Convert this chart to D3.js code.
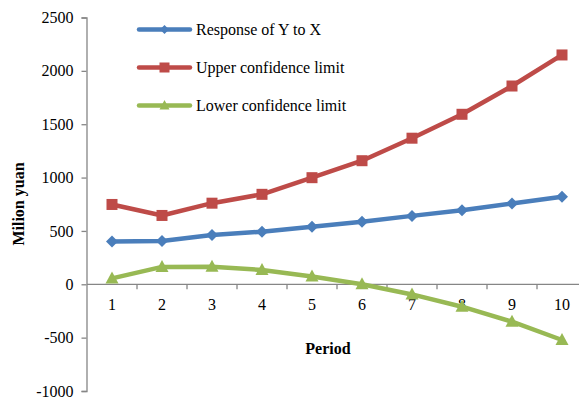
<!DOCTYPE html>
<html>
<head>
<meta charset="utf-8">
<script src="https://cdn.jsdelivr.net/npm/d3@7"></script>
<style>
  html, body { margin: 0; padding: 0; background: #fff; }
  svg { display: block; }
</style>
</head>
<body>
<svg id="chart" width="579" height="399"></svg>
<script>
// Periods on the horizontal axis
const periods = ["1", "2", "3", "4", "5", "6", "7", "8", "9", "10"];
// Response of Y to X and its confidence band (million yuan)
const response = [402, 405, 462, 493, 540, 587, 641, 693, 757, 821];
const upperLimit = [748, 645, 760, 843, 999, 1158, 1369, 1593, 1858, 2149];
const lowerLimit = [55, 163, 165, 134, 72, 0, -95, -210, -350, -522];
const yTicks = [-1000, -500, 0, 500, 1000, 1500, 2000, 2500];
const seriesNames = ["Response of Y to X", "Upper confidence limit", "Lower confidence limit"];
const seriesColors = ["#4a7ebb", "#be4b48", "#98b954"];
const seriesMarkers = ["diamond", "square", "triangle"];

const svg = d3.select("#chart");
const font = "'Liberation Serif', 'Times New Roman', serif";
const axisColor = "#868686";

const x = d3.scaleBand().domain(periods).range([87, 587]);
const y = d3.scaleLinear().domain([-1000, 2500]).range([391, 17.5]);

// Y axis
const yAxis = svg.append("g").attr("transform", "translate(86.5,0)")
  .call(d3.axisLeft(y).tickValues(yTicks).tickSize(5).tickPadding(8)
    .tickFormat(d => String(d)));
yAxis.select(".domain").attr("stroke", axisColor).attr("stroke-width", 1.3);
yAxis.selectAll(".tick line").attr("stroke", axisColor).attr("stroke-width", 1.3);
yAxis.selectAll(".tick text").attr("font-family", font).attr("font-size", 16).attr("fill", "#000");

// X axis on the zero line, ticks between categories
const xg = svg.append("g").attr("transform", `translate(0,${y(0)})`);
xg.append("line").attr("x1", x.range()[0]).attr("x2", x.range()[1])
  .attr("stroke", axisColor).attr("stroke-width", 1.3);
xg.selectAll("line.tk").data(periods).enter().append("line").attr("class", "tk")
  .attr("x1", d => x(d) + x.bandwidth()).attr("x2", d => x(d) + x.bandwidth())
  .attr("y1", 0).attr("y2", 5).attr("stroke", axisColor).attr("stroke-width", 1.3);
xg.selectAll("text").data(periods).enter().append("text")
  .attr("x", d => x(d) + x.bandwidth() / 2).attr("y", 26)
  .attr("text-anchor", "middle").attr("font-family", font).attr("font-size", 16)
  .text(d => d);

// Axis titles
svg.append("text").attr("transform", "translate(24,204) rotate(-90)")
  .attr("text-anchor", "middle").attr("font-family", font).attr("font-size", 16)
  .attr("font-weight", "bold").text("Milion yuan");
svg.append("text").attr("x", 328).attr("y", 354)
  .attr("text-anchor", "middle").attr("font-family", font).attr("font-size", 16)
  .attr("font-weight", "bold").text("Period");

const cx = d => x(d) + x.bandwidth() / 2;

function marker(sel, type, color) {
  if (type === "diamond") {
    sel.append("path").attr("d", "M0,-6L6,0L0,6L-6,0Z").attr("fill", color);
  } else if (type === "square") {
    sel.append("rect").attr("x", -5.5).attr("y", -5.5).attr("width", 11).attr("height", 11).attr("fill", color);
  } else {
    sel.append("path").attr("d", "M0,-7L6.5,5L-6.5,5Z").attr("fill", color);
  }
}

const series = [response, upperLimit, lowerLimit];
const line = d3.line().x((d, i) => cx(periods[i])).y(d => y(d));

series.forEach((vals, s) => {
  const g = svg.append("g");
  g.append("path").datum(vals).attr("d", line).attr("fill", "none")
    .attr("stroke", seriesColors[s]).attr("stroke-width", 4.5).attr("stroke-linejoin", "round");
  vals.forEach((v, i) => {
    const m = g.append("g").attr("transform", `translate(${cx(periods[i])},${y(v)})`);
    marker(m, seriesMarkers[s], seriesColors[s]);
  });
});

// Legend
const legendY = [29.5, 67.5, 105.5];
seriesNames.forEach((name, s) => {
  const g = svg.append("g").attr("transform", `translate(0,${legendY[s]})`);
  g.append("line").attr("x1", 139).attr("x2", 190).attr("stroke", seriesColors[s])
    .attr("stroke-width", 4.5).attr("stroke-linecap", "round");
  const m = g.append("g").attr("transform", "translate(164.5,0)");
  if (seriesMarkers[s] === "diamond") m.append("path").attr("d", "M0,-4.5L4.5,0L0,4.5L-4.5,0Z").attr("fill", seriesColors[s]);
  else if (seriesMarkers[s] === "square") m.append("rect").attr("x", -5).attr("y", -5).attr("width", 10).attr("height", 10).attr("fill", seriesColors[s]);
  else m.append("path").attr("d", "M0,-5.5L5,4L-5,4Z").attr("fill", seriesColors[s]);
  g.append("text").attr("x", 196).attr("y", 5.5).attr("font-family", font)
    .attr("font-size", 16).attr("fill", "#000").text(name);
});
</script>
</body>
</html>
